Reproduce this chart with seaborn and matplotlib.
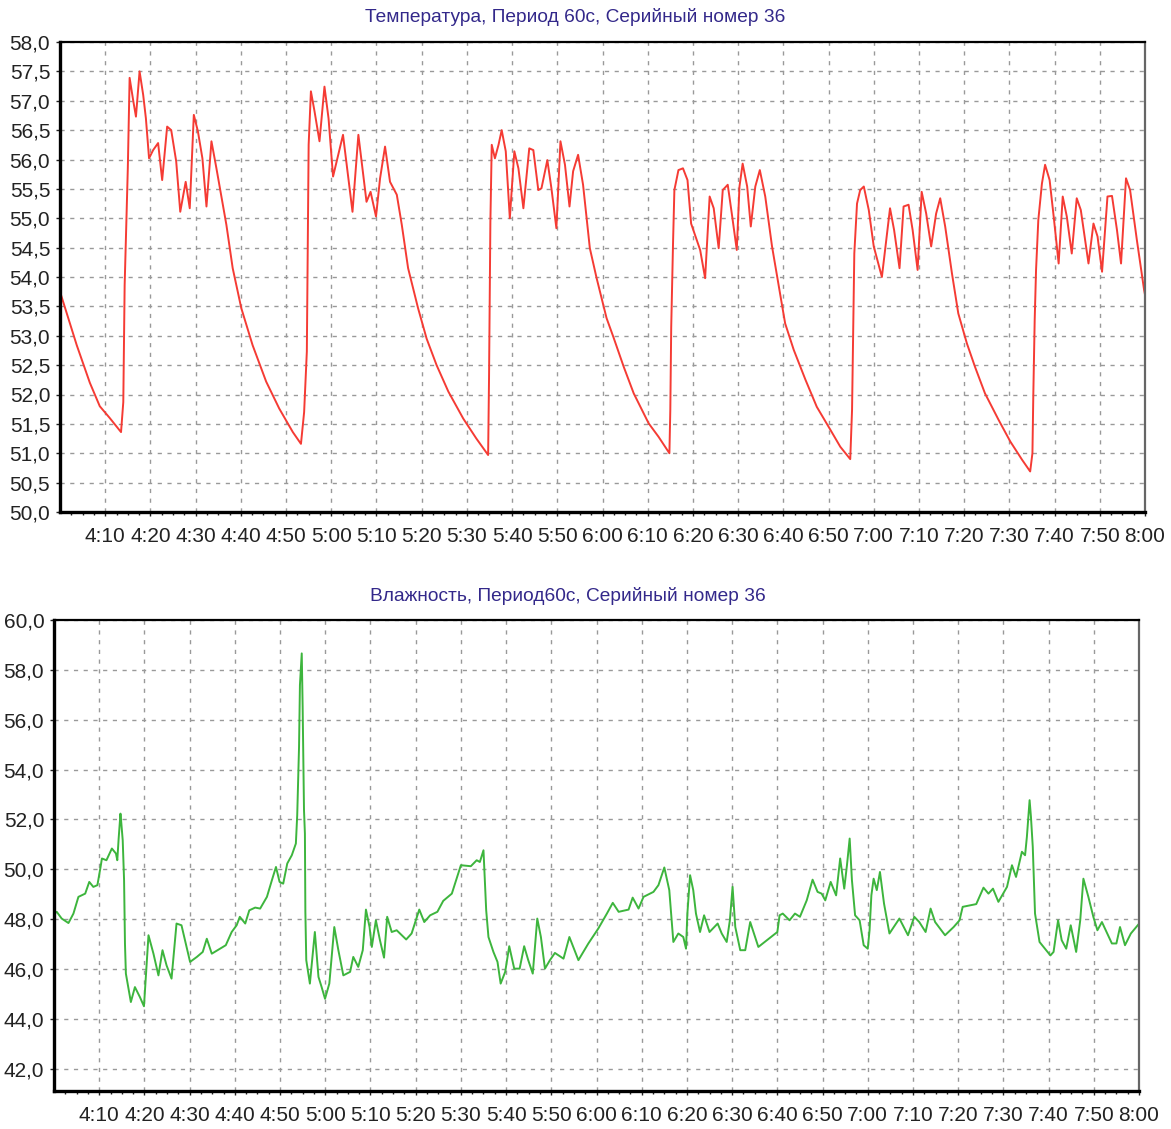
import matplotlib
matplotlib.use("Agg")
import matplotlib.pyplot as plt
import seaborn as sns
import numpy as np
import pandas as pd

# ---------------- data ----------------
# minutes after 4:00
temp_min = [0, 3.7, 6.6, 8.8, 11.0, 13.5, 14.0, 14.3, 15.0, 15.4, 16.2, 16.8, 17.6, 18.4, 19.0,
            19.7, 20.6, 21.7, 22.6, 23.7, 24.6, 25.7, 26.6, 27.8, 28.7, 29.6, 30.5, 31.5, 32.4,
            33.5, 34.6, 36.8, 38.2, 40.1, 42.6, 45.6, 48.5, 51.5, 53.3, 54.0, 54.6, 55.0, 55.5,
            56.3, 57.4, 58.5, 59.4, 60.4, 62.6, 64.7, 66.0, 67.8, 68.7, 69.9, 70.8, 71.9, 73.0,
            74.5, 75.6, 77.0, 79.2, 81.1, 83.3, 85.9, 89.2, 92.1, 94.7, 94.9, 95.2, 95.5, 96.2,
            97.0, 97.7, 98.6, 99.5, 100.5, 101.4, 102.5, 103.8, 104.7, 105.8, 106.5, 107.8,
            108.7, 109.8, 110.7, 111.7, 112.7, 113.5, 114.6, 115.7, 117.2, 118.7, 120.9, 122.4,
            124.7, 126.9, 130.2, 132.4, 134.8, 135.0, 135.2, 135.6, 135.9, 136.8, 137.8, 138.8,
            139.6, 140.5, 141.6, 142.7, 143.7, 144.6, 145.7, 146.6, 147.7, 148.6, 149.7, 150.3,
            151.0, 152.0, 152.8, 153.8, 154.8, 156.0, 157.5, 159.0, 160.4, 162.3, 164.9, 167.4,
            170.4, 172.6, 174.8, 175.2, 175.7, 176.3, 177.0, 177.8, 178.9, 180.0, 181.8, 183.6,
            184.5, 185.7, 186.6, 187.7, 188.6, 189.7, 190.6, 191.6, 192.7, 193.8, 194.7, 195.8,
            197.3, 198.7, 200.6, 202.4, 204.6, 207.6, 210.2, 212.8, 214.6, 215.1, 215.3, 215.6,
            215.9, 216.4, 217.2, 217.9, 218.9, 219.8, 220.9, 221.8, 222.7, 223.8, 224.9, 225.8,
            227.5, 228.6, 229.5, 230.5, 231.7, 232.7, 233.8, 234.7, 235.8, 236.7, 238.2, 239.8,
            240.0]
temp_val = [53.75, 52.84, 52.2, 51.8, 51.6, 51.36, 51.87, 53.86, 55.85, 57.39, 57.0, 56.73, 57.5,
            57.1, 56.7, 56.02, 56.16, 56.28, 55.65, 56.56, 56.5, 55.97, 55.11, 55.62, 55.17, 56.76,
            56.48, 56.02, 55.2, 56.31, 55.85, 54.89, 54.15, 53.47, 52.84, 52.22, 51.76, 51.36,
            51.16, 51.7, 52.73, 56.25, 57.16, 56.82, 56.31, 57.24, 56.7, 55.71, 56.42, 55.11,
            56.42, 55.28, 55.45, 55.03, 55.68, 56.22, 55.62, 55.4, 54.89, 54.15, 53.47, 52.95,
            52.5, 52.05, 51.59, 51.25, 50.97, 52.27, 54.94, 56.25, 56.02, 56.25, 56.5, 56.14,
            55.0, 56.14, 55.85, 55.17, 56.19, 56.16, 55.48, 55.51, 55.99, 55.51, 54.83, 56.31,
            55.91, 55.2, 55.8, 56.08, 55.57, 54.49, 53.98, 53.3, 52.98, 52.47, 52.02, 51.51,
            51.28, 51.0, 51.74, 53.15, 54.57, 55.48, 55.82, 55.85, 55.65, 54.91, 54.71, 54.46,
            53.98, 55.37, 55.17, 54.49, 55.48, 55.57, 55.08, 54.46, 55.54, 55.93, 55.54, 54.86,
            55.54, 55.82, 55.37, 54.52, 53.84, 53.21, 52.76, 52.25, 51.79, 51.4, 51.11, 50.9,
            51.74, 54.4, 55.25, 55.48, 55.54, 55.14, 54.52, 54.0, 55.17, 54.8, 54.15, 55.2,
            55.23, 54.8, 54.12, 55.45, 55.08, 54.52, 55.08, 55.34, 54.86, 54.06, 53.38, 52.87,
            52.47, 52.02, 51.57, 51.2, 50.89, 50.69, 51.0, 52.02, 53.27, 54.12, 54.97, 55.59,
            55.91, 55.65, 55.03, 54.23, 55.37, 55.03, 54.4, 55.34, 55.14, 54.23, 54.91, 54.69,
            54.09, 55.37, 55.38, 54.8, 54.23, 55.68, 55.48, 54.63, 53.78, 53.7]

hum_min = [0, 0.6, 1.7, 3.2, 4.3, 5.4, 6.9, 7.8, 8.7, 9.6, 10.3, 10.6, 11.6, 12.8, 13.7, 14.0,
           14.3, 14.7, 14.9, 15.2, 15.5, 15.7, 15.9, 17.0, 17.9, 19.0, 19.9, 20.9, 22.0, 23.1,
           24.0, 24.9, 26.0, 27.1, 28.2, 30.1, 31.6, 32.9, 33.8, 34.9, 36.7, 38.0, 39.3, 40.4,
           41.1, 42.3, 43.2, 44.5, 45.6, 47.1, 48.2, 49.1, 49.9, 50.7, 51.6, 52.6, 53.5, 53.8,
           54.2, 54.4, 54.8, 55.0, 55.3, 55.5, 55.6, 55.8, 56.6, 57.7, 58.5, 59.2, 59.95, 60.9,
           62.0, 62.9, 64.0, 65.5, 66.2, 67.3, 68.3, 69.0, 69.8, 70.3, 71.2, 72.1, 73.0, 73.7,
           74.7, 75.8, 77.9, 79.1, 80.8, 81.9, 83.2, 84.8, 86.1, 88.0, 90.0, 92.2, 93.5, 94.2,
           95.0, 95.6, 96.1, 97.2, 98.1, 98.8, 99.8, 100.7, 101.8, 103.0, 104.0, 104.9, 105.9,
           106.9, 107.7, 108.6, 109.7, 110.8, 112.7, 114.0, 116.0, 118.2, 120.4, 122.3, 123.6,
           124.9, 127.1, 128.0, 129.3, 130.4, 132.6, 133.7, 135.0, 136.1, 137.0, 138.1, 139.2,
           139.8, 140.1, 140.7, 141.4, 142.0, 142.9, 143.8, 145.0, 146.8, 147.7, 148.8, 149.5,
           150.1, 150.7, 151.8, 152.9, 154.0, 155.8, 158.2, 160.0, 160.5, 161.2, 162.7, 163.9,
           165.0, 166.5, 167.8, 168.9, 169.8, 170.6, 171.8, 173.0, 173.9, 174.8, 175.4, 176.0,
           176.5, 177.2, 178.2, 179.1, 180.0, 180.4, 180.8, 181.3, 182.0, 182.7, 183.6, 184.8,
           187.0, 188.9, 190.3, 191.4, 192.8, 193.9, 194.9, 197.1, 199.0, 200.3, 201.0, 204.0,
           205.6, 206.7, 207.7, 208.9, 210.8, 211.9, 212.8, 214.1, 214.8, 215.2, 215.8, 216.1,
           216.5, 217.0, 218.0, 219.2, 220.4, 221.1, 222.1, 222.9, 223.9, 224.9, 226.1, 227.0,
           227.7, 228.8, 229.9, 230.8, 231.8, 234.0, 235.0, 235.8, 236.9, 238.2, 239.9, 240.0]
hum_val = [48.2, 48.29, 48.02, 47.84, 48.22, 48.89, 49.02, 49.49, 49.29, 49.36, 50.09, 50.43,
           50.36, 50.83, 50.63, 50.36, 51.23, 52.23, 51.83, 51.16, 49.56, 47.0, 45.81, 44.67,
           45.27, 44.87, 44.5, 47.35, 46.61, 45.74, 46.75, 46.14, 45.61, 47.82, 47.75, 46.28,
           46.48, 46.68, 47.21, 46.61, 46.81, 46.95, 47.48, 47.75, 48.09, 47.82, 48.35, 48.46,
           48.42, 48.89, 49.56, 50.09, 49.49, 49.42, 50.23, 50.56, 51.03, 52.17, 54.9, 57.39,
           58.66, 56.52, 52.37, 51.43, 48.3, 46.35, 45.41, 47.48, 45.68, 45.27, 44.8, 45.41,
           47.68, 46.75, 45.74, 45.88, 46.48, 46.08, 46.75, 48.38, 47.68, 46.88, 47.95, 47.15,
           46.45, 48.09, 47.48, 47.55, 47.18, 47.42, 48.38, 47.88, 48.15, 48.29, 48.73, 49.02,
           50.16, 50.12, 50.36, 50.29, 50.76, 48.35, 47.28, 46.68, 46.28, 45.41, 45.88, 46.91,
           46.01, 46.01, 46.91, 46.35, 45.81, 48.02, 47.28, 46.01, 46.35, 46.64, 46.41, 47.28,
           46.35, 47.02, 47.62, 48.22, 48.65, 48.29, 48.38, 48.86, 48.42, 48.89, 49.09, 49.36,
           50.07, 49.16, 47.08, 47.42, 47.28, 46.81, 48.22, 49.76, 49.16, 48.22, 47.48, 48.15,
           47.48, 47.82, 47.42, 47.08, 47.95, 49.29, 47.68, 46.75, 46.75, 47.88, 46.88, 47.22,
           47.48, 48.15, 48.22, 47.95, 48.22, 48.09, 48.75, 49.58, 49.09, 49.02, 48.75, 49.49,
           48.95, 50.43, 49.22, 50.16, 51.23, 49.56, 48.15, 47.95, 46.95, 46.81, 47.55, 48.95,
           49.62, 49.16, 49.89, 48.62, 47.42, 48.02, 47.35, 48.09, 47.88, 47.48, 48.42, 47.88,
           47.35, 47.68, 47.95, 48.49, 48.6, 49.26, 49.02, 49.22, 48.69, 49.29, 50.16, 49.69,
           50.7, 50.56, 51.3, 52.77, 52.1, 50.9, 48.22, 47.08, 46.81, 46.54, 46.68, 47.95,
           47.15, 46.81, 47.75, 46.68, 47.95, 49.62, 48.89, 48.09, 47.55, 47.88, 47.02, 47.02,
           47.68, 46.95, 47.42, 47.79, 47.8]

x_tick_minutes = list(range(10, 241, 10))
x_tick_labels = [f"{(240 + m) // 60}:{(240 + m) % 60:02d}" for m in x_tick_minutes]
temp_ticks = [50.0 + 0.5 * i for i in range(17)]
hum_ticks = [42.0 + 2.0 * i for i in range(10)]

title_temp = "Температура, Период 60с, Серийный номер 36"
title_hum = "Влажность, Период60с, Серийный номер 36"

# ---------------- style ----------------
sns.set_theme(style="white")
plt.rcParams["font.family"] = ["Liberation Sans", "DejaVu Sans"]

W, H = 1171, 1129
fig = plt.figure(figsize=(W / 100, H / 100), dpi=100)
fig.patch.set_facecolor("white")

def px_axes(l, t, r, b):
    return fig.add_axes([l / W, 1 - b / H, (r - l) / W, (b - t) / H])

ax1 = px_axes(60, 42, 1145, 512)
ax2 = px_axes(54, 620, 1139, 1091)

df_t = pd.DataFrame({"m": temp_min, "v": temp_val})
df_h = pd.DataFrame({"m": hum_min, "v": hum_val})

sns.lineplot(data=df_t, x="m", y="v", ax=ax1, color="#f53b34", linewidth=1.4,
             estimator=None, sort=False)
sns.lineplot(data=df_h, x="m", y="v", ax=ax2, color="#3db53d", linewidth=1.4,
             estimator=None, sort=False)

def style(ax, yticks, ylim):
    ax.set_xlim(0, 240)
    ax.set_ylim(*ylim)
    ax.set_xticks(x_tick_minutes)
    ax.set_xticklabels(x_tick_labels)
    ax.set_xticks(np.arange(2.5, 240, 2.5), minor=True)
    ax.set_yticks(yticks)
    ax.set_yticklabels([f"{v:.1f}".replace(".", ",") for v in yticks])
    ax.set_xlabel("")
    ax.set_ylabel("")
    ax.grid(True, which="major", linestyle=(0, (3, 4)), color="#999999", linewidth=1.0)
    ax.set_axisbelow(True)
    ax.tick_params(axis="x", which="major", bottom=True, length=3, width=1, pad=8,
                   labelsize=15, colors="#222222")
    ax.tick_params(axis="x", which="minor", bottom=True, length=2, width=1, color="#222222")
    ax.tick_params(axis="y", which="major", left=True, length=3, width=1, pad=4,
                   labelsize=15, colors="#222222")
    for side, lw, col in [("left", 2.4, "black"), ("bottom", 2.4, "black"),
                          ("top", 1.6, "black"), ("right", 1.6, "#666666")]:
        ax.spines[side].set_visible(True)
        ax.spines[side].set_linewidth(lw)
        ax.spines[side].set_color(col)
    ax.set_facecolor("white")

style(ax1, temp_ticks, (50.0, 58.0))
style(ax2, hum_ticks, (41.1, 60.0))

fig.text(575 / W, 1 - 17 / H, title_temp, ha="center", va="center",
         fontsize=13.8, color="#33288a")
fig.text(568 / W, 1 - 596 / H, title_hum, ha="center", va="center",
         fontsize=13.8, color="#33288a")

fig.savefig("out.png", dpi=100, facecolor="white")
